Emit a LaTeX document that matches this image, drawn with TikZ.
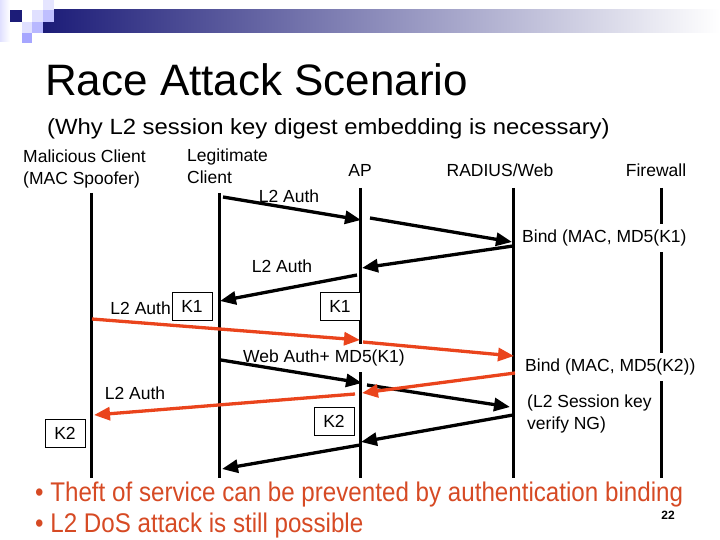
\documentclass[tikz,border=0pt]{standalone}
\usepackage{fontspec}
\setmainfont{Liberation Sans}
\newfontfamily\narrowsans[FakeStretch=0.895]{Liberation Sans}
\newfontfamily\widesans[FakeStretch=1.085]{Liberation Sans}
\usetikzlibrary{calc}
\usetikzlibrary{shapes}
\usetikzlibrary{arrows.meta}
\definecolor{navybar}{RGB}{28,28,120}
\definecolor{attackred}{RGB}{234,68,28}
\definecolor{bullettext}{RGB}{214,74,36}
\newcommand{\keybox}[4]{ \node[draw, line width=0.8pt, fill=white, minimum width=40pt, minimum height=28pt, inner sep=0pt, font=\fontsize{17.5}{20}\selectfont] (#1) at ( #2 , #3 ){#4};}
\newcommand{\lifeline}[4]{ \coordinate (#1top) at ( #2 , #3 ); \coordinate (#1bot) at ( #2 , #4 ); \draw[line width=3pt] (#1top) -- (#1bot);}
\newcommand{\msgpt}[3]{ \coordinate (#1) at ( #2 , #3 );}

\begin{document}
\begin{tikzpicture}[x=1pt,y=-1pt,
    lbl/.style={font=\fontsize{17.5}{22}\selectfont, inner sep=1pt},
    msg/.style={line width=3.3pt, -{Triangle[length=16pt,width=13pt]}},
    atk/.style={msg, draw=attackred}]
    \useasboundingbox (0,0) rectangle (720,540);
    % banner
    \shade[left color=navybar, right color=white] (43,10) rectangle (720,33);
    \shade[left color=blue!12, right color=white] (0,0) rectangle (10,42);
    \fill[navybar] (10,10) rectangle (22,22);
    \fill[blue!12] (32,10) rectangle (43,22);
    \fill[blue!10] (43,0) rectangle (54,10);
    \fill[blue!25] (43,10) rectangle (54,22);
    \fill[blue!12] (22,22) rectangle (32,33);
    \fill[blue!28] (32,22) rectangle (43,33);
    \fill[blue!35] (22,33) rectangle (32,43);
    % title
    \node[anchor=west, font=\fontsize{44}{48}\selectfont, inner sep=0pt] (title) at (45,80) {Race Attack Scenario};
    \node[anchor=west, font=\widesans\fontsize{22}{25}\selectfont, inner sep=0pt] (subtitle) at (47,129) {(Why L2 session key digest embedding is necessary)};
    % actors
    \node[lbl, anchor=west, align=left] (malname) at (22,169) {Malicious Client\\(MAC Spoofer)};
    \node[lbl, anchor=west, align=left] (legname) at (186,166) {Legitimate\\Client};
    \node[lbl] (apname) at (360,170) {AP};
    \node[lbl] (radname) at (500,170) {RADIUS/Web};
    \node[lbl] (fwname) at (656,170) {Firewall};
    % lifelines
    \lifeline{mal}{91}{193}{478}
    \lifeline{leg}{219}{193}{478}
    \lifeline{ap}{360}{188}{478}
    \lifeline{rad}{513}{188}{478}
    \lifeline{fw}{661}{188}{478}
    % labels
    \node[lbl] (m1lbl) at (289,196) {L2 Auth};
    \node[lbl, anchor=west, fill=white, inner sep=6pt] (m2lbl) at (516,238) {Bind (MAC, MD5(K1)};
    \node[lbl] (m4lbl) at (282,266) {L2 Auth};
    \node[lbl, anchor=east] (k1lbl) at (172,308) {L2 Auth};
    \keybox{k1leg}{192}{306}{K1}
    \keybox{k1ap}{340}{306}{K1}
    \node[lbl, anchor=west, fill=white, inner sep=6pt] (m6lbl) at (519,367) {Bind (MAC, MD5(K2))};
    \node[lbl, fill=white, inner sep=6pt] (m7lbl) at (324,358) {Web Auth+ MD5(K1)};
    \node[lbl, anchor=west, align=left] (m8lbl) at (526,414) {(L2 Session key\\verify NG)};
    \node[lbl] (m10lbl) at (135,393) {L2 Auth};
    \keybox{k2mal}{65}{433}{K2}
    \keybox{k2ap}{334}{421}{K2}
    % messages
    \msgpt{m1s}{223}{197} \msgpt{m1e}{361}{220}
    \msgpt{m2s}{370}{218} \msgpt{m2e}{512}{242}
    \msgpt{m3s}{513}{246} \msgpt{m3e}{362}{268}
    \msgpt{m4s}{357}{275} \msgpt{m4e}{220}{301}
    \msgpt{m5s}{92}{319}  \msgpt{m5e}{360}{340}
    \msgpt{m6s}{363}{342} \msgpt{m6e}{514}{356}
    \msgpt{m7s}{221}{360} \msgpt{m7e}{362}{383}
    \msgpt{m8s}{367}{385} \msgpt{m8e}{510}{407}
    \msgpt{m9s}{515}{373} \msgpt{m9e}{362}{393}
    \msgpt{m10s}{355}{394} \msgpt{m10e}{94}{415}
    \msgpt{m11s}{513}{415} \msgpt{m11e}{361}{442}
    \msgpt{m12s}{360}{445} \msgpt{m12e}{222}{469}
    \draw[msg] (m1s) -- (m1e);
    \draw[msg] (m2s) -- (m2e);
    \draw[msg] (m3s) -- (m3e);
    \draw[msg] (m4s) -- (m4e);
    \draw[atk] (m5s) -- (m5e);
    \draw[atk] (m6s) -- (m6e);
    \draw[msg] (m7s) -- (m7e);
    \draw[msg] (m8s) -- (m8e);
    \draw[atk] (m9s) -- (m9e);
    \draw[atk] (m10s) -- (m10e);
    \draw[msg] (m11s) -- (m11e);
    \draw[msg] (m12s) -- (m12e);
    % bullets
    \node[anchor=west, text=bullettext, font=\narrowsans\fontsize{27}{31}\selectfont, inner sep=0pt] (bull1) at (35,495) {•\ Theft of service can be prevented by authentication binding};
    \node[anchor=west, text=bullettext, font=\narrowsans\fontsize{27}{31}\selectfont, inner sep=0pt] (bull2) at (35,526) {•\ L2 DoS attack is still possible};
    \node[font=\bfseries\fontsize{12}{14}\selectfont] (pgnum) at (668,515) {22};
\end{tikzpicture}
\end{document}
